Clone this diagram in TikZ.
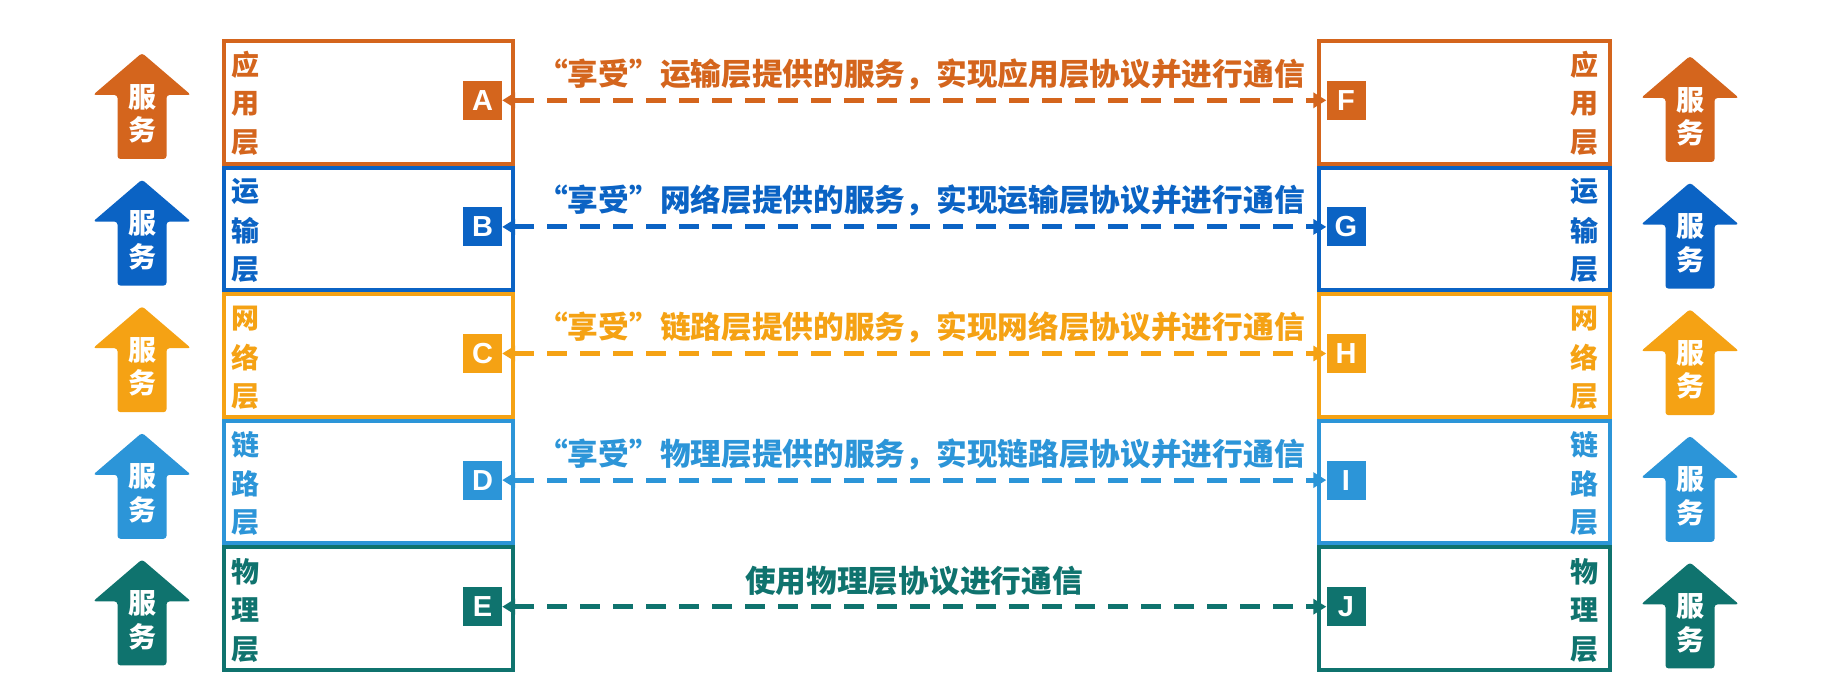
\documentclass[tikz,border=0pt]{standalone}
\usepackage{fontspec}
\newfontfamily\cjk{Noto Sans CJK SC}
\newfontfamily\lat{Liberation Sans}
\usetikzlibrary{arrows.meta}
\definecolor{c1}{RGB}{212,101,29}
\definecolor{c2}{RGB}{11,99,196}
\definecolor{c3}{RGB}{245,162,20}
\definecolor{c4}{RGB}{44,149,216}
\definecolor{c5}{RGB}{15,115,110}
\tikzset{
  layerbox/.style={draw=#1, line width=4pt, minimum width=289pt, minimum height=122.6pt, inner sep=0pt, anchor=north west},
  rlayerbox/.style={draw=#1, line width=4pt, minimum width=291pt, minimum height=122.6pt, inner sep=0pt, anchor=north west},
  letterbox/.style={fill=#1, text=white, minimum size=39pt, inner sep=0pt, font=\lat\bfseries\fontsize{29}{29}\selectfont},
  layerchar/.style={text=#1, inner sep=0pt, font=\cjk\bfseries\fontsize{28}{28}\selectfont},
  svcchar/.style={text=white, inner sep=0pt, font=\cjk\bfseries\fontsize{28}{28}\selectfont},
  toplabel/.style={text=#1, inner sep=0pt, font=\cjk\bfseries\fontsize{30.7}{30.7}\selectfont},
  peer/.style={draw=#1, line width=5pt, dash pattern=on 20pt off 13pt, {Triangle[length=13pt,width=15pt]}-{Triangle[length=13pt,width=15pt]}},
}
\newcommand\SvcArrow[4]{% #1 name, #2 cx, #3 top, #4 colour
  \fill[#4, rounded corners=3pt] (#2,#3+16) -- (#2+49,#3+58) -- (#2+24.5,#3+58) -- (#2+24.5,#3+122) -- (#2-24.5,#3+122) -- (#2-24.5,#3+58) -- (#2-49,#3+58) -- cycle;
  \node[svcchar] (#1a) at (#2,#3+60) {服};
  \node[svcchar] (#1b) at (#2,#3+93) {务};
}
\newcommand\Layer[9]{% #1 idx, #2 colour, #3-#5 chars, #6 label, #7 L, #8 R, #9 label x
  \pgfmathsetmacro\T{37+#1*126.6}
  \pgfmathsetmacro\M{\T+63.3}
  \node[layerbox=#2] (lb#1) at (222,\T+2) {};
  \node[rlayerbox=#2] (rb#1) at (1317,\T+2) {};
  \node[layerchar=#2] (lc#1a) at (245,\T+28) {#3};
  \node[layerchar=#2] (lc#1b) at (245,\T+67) {#4};
  \node[layerchar=#2] (lc#1c) at (245,\T+106) {#5};
  \node[layerchar=#2] (rc#1a) at (1584,\T+28) {#3};
  \node[layerchar=#2] (rc#1b) at (1584,\T+67) {#4};
  \node[layerchar=#2] (rc#1c) at (1584,\T+106) {#5};
  \node[letterbox=#2] (#7) at (482.5,\M) {#7};
  \node[letterbox=#2] (#8) at (1346,\M) {#8};
  \draw[peer=#2] (#7) -- (#8);
  \node[toplabel=#2] (lab#1) at (#9,\M-26) {#6};
  \SvcArrow{ls#1}{142}{\T}{#2}
  \SvcArrow{rs#1}{1690}{\T+3}{#2}
}
\begin{document}
\begin{tikzpicture}[x=1pt,y=-1pt]
\useasboundingbox[fill=white] (0,0) rectangle (1834,687);
\Layer{0}{c1}{应}{用}{层}{“享受”运输层提供的服务，实现应用层协议并进行通信}{A}{F}{921}
\Layer{1}{c2}{运}{输}{层}{“享受”网络层提供的服务，实现运输层协议并进行通信}{B}{G}{921}
\Layer{2}{c3}{网}{络}{层}{“享受”链路层提供的服务，实现网络层协议并进行通信}{C}{H}{921}
\Layer{3}{c4}{链}{路}{层}{“享受”物理层提供的服务，实现链路层协议并进行通信}{D}{I}{921}
\Layer{4}{c5}{物}{理}{层}{使用物理层协议进行通信}{E}{J}{914}
\end{tikzpicture}
\end{document}
